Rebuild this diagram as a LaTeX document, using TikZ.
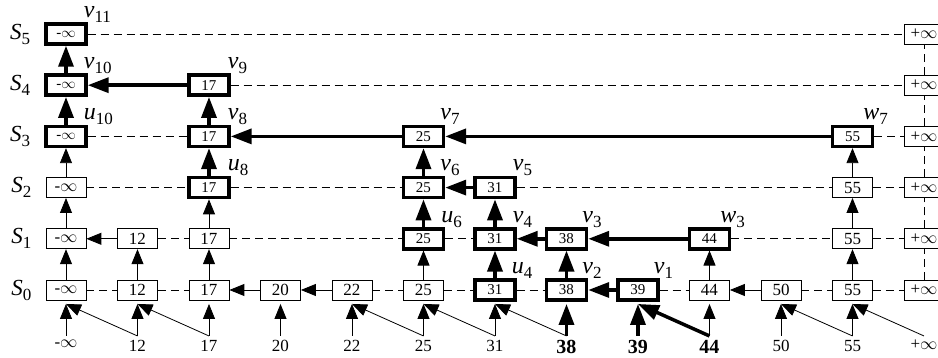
\documentclass[tikz,border=0pt]{standalone}
\usepackage{fontspec}
\setmainfont{Liberation Serif}
\usetikzlibrary{arrows.meta,positioning}

% italic letter with a lowered upright index
\newcommand{\lvl}[2]{\textit{#1}\raisebox{-5pt}{\fontsize{17}{17}\selectfont #2}}

\begin{document}
\begin{tikzpicture}[x=71.5pt,y=51.2pt,
    cell/.style={draw,line width=0.8pt,fill=white,minimum width=40pt,minimum height=20pt,
      inner sep=0pt,font=\fontsize{17}{17}\selectfont},
    hcell/.style={cell,line width=3.5pt,font=\fontsize{15}{15}\selectfont},
    ptr/.style={line width=0.8pt,-{Triangle[length=15pt,width=12pt]}},
    bptr/.style={line width=3.5pt,-{Triangle[length=21pt,width=15pt]}},
    link/.style={line width=0.8pt,dash pattern=on 8pt off 5pt},
    lab/.style={anchor=base west,inner sep=0pt,font=\fontsize{24}{24}\selectfont}]
  \useasboundingbox (-0.923,-1.328) rectangle (12.196,5.664);
  % level S_0 holds every key
  \foreach \c/\k/\st in {0/-$\infty$/cell,1/12/cell,2/17/cell,3/20/cell,4/22/cell,
      5/25/cell,6/31/hcell,7/38/hcell,8/39/hcell,9/44/cell,10/50/cell,11/55/cell,
      12/+$\infty$/cell}
    \node[\st] (n\c-0) at (\c,0) {\k};
  % S_1
  \foreach \c/\k/\st in {0/-$\infty$/cell,1/12/cell,2/17/cell,5/25/hcell,6/31/hcell,
      7/38/hcell,9/44/hcell,11/55/cell,12/+$\infty$/cell}
    \node[\st] (n\c-1) at (\c,1) {\k};
  % S_2
  \foreach \c/\k/\st in {0/-$\infty$/cell,2/17/hcell,5/25/hcell,6/31/hcell,11/55/cell,
      12/+$\infty$/cell}
    \node[\st] (n\c-2) at (\c,2) {\k};
  % S_3
  \foreach \c/\k/\st in {0/-$\infty$/hcell,2/17/hcell,5/25/hcell,11/55/hcell,
      12/+$\infty$/cell}
    \node[\st] (n\c-3) at (\c,3) {\k};
  % S_4 and S_5
  \foreach \c/\k/\st in {0/-$\infty$/hcell,2/17/hcell,12/+$\infty$/cell}
    \node[\st] (n\c-4) at (\c,4) {\k};
  \foreach \c/\k/\st in {0/-$\infty$/hcell,12/+$\infty$/cell}
    \node[\st] (n\c-5) at (\c,5) {\k};
  % level names
  \foreach \j in {0,...,5}
    \node[left=14pt of n0-\j,inner sep=0pt,font=\fontsize{23}{23}\selectfont] (s\j) {\lvl{S}{\j}};
  % dashed links along the levels
  \foreach \a/\b/\j in {0/1/0,1/2/0,4/5/0,5/6/0,6/7/0,8/9/0,10/11/0,11/12/0,
      1/2/1,2/5/1,5/6/1,9/11/1,11/12/1,0/2/2,2/5/2,6/11/2,11/12/2,
      0/2/3,11/12/3,2/12/4,0/12/5}
    \draw[link] (n\a-\j) -- (n\b-\j);
  \foreach \j/\i in {0/1,1/2,2/3,3/4,4/5}
    \draw[link] (n12-\j) -- (n12-\i);
  % left pointers
  \foreach \a/\b/\j/\st in {3/2/0/ptr,4/3/0/ptr,8/7/0/bptr,10/9/0/ptr,1/0/1/ptr,
      7/6/1/bptr,9/7/1/bptr,6/5/2/bptr,5/2/3/bptr,11/5/3/bptr,2/0/4/bptr}
    \draw[\st] (n\a-\j) -- (n\b-\j);
  % up pointers
  \foreach \c/\j/\i/\st in {0/0/1/ptr,0/1/2/ptr,0/2/3/ptr,0/3/4/bptr,0/4/5/bptr,
      1/0/1/ptr,2/0/1/ptr,2/1/2/ptr,2/2/3/bptr,2/3/4/bptr,5/0/1/ptr,5/1/2/bptr,
      5/2/3/bptr,6/0/1/bptr,6/1/2/bptr,7/0/1/bptr,9/0/1/ptr,11/0/1/ptr,11/1/2/ptr,
      11/2/3/ptr}
    \draw[\st] (n\c-\j) -- (n\c-\i);
  % search path labels
  \foreach \nm/\a/\b/\dx in {0-5/v/11/-4,0-4/v/10/-4,0-3/u/10/-4,2-4/v/9/-3,2-3/v/8/-3,
      2-2/u/8/-3,5-3/v/7/-5,5-2/v/6/-5,5-1/u/6/-4,6-2/v/5/-4,6-1/v/4/-4,6-0/u/4/-5,
      7-1/v/3/-6,7-0/v/2/-6,8-0/v/1/-6,9-1/w/3/-11,11-3/w/7/-11}
    \node[lab] (l\nm) at ([xshift=\dx pt,yshift=5pt]n\nm.north east) {\lvl{\a}{\b}};
  % keys arriving below S_0
  \foreach \c in {0,...,12}{
    \coordinate (b\c) at (\c,-0.898);
    \coordinate (t\c) at (\c,-0.273);
  }
  \foreach \c/\k in {0/-$\infty$,1/12,2/17,3/20,4/22,5/25,6/31,10/50,11/55,12/+$\infty$}
    \node[anchor=north,inner sep=0pt,font=\fontsize{17}{17}\selectfont] (k\c) at (\c,-0.975) {\k};
  \foreach \c/\k in {7/38,8/39,9/44}
    \node[anchor=north,inner sep=0pt,font=\fontsize{20}{20}\selectfont\bfseries] (k\c) at (\c,-0.985) {\k};
  \foreach \c in {0,1,2,3,4,5,6,9,10,11}
    \draw[ptr] (b\c) -- (t\c);
  \foreach \c in {7,8}
    \draw[bptr] (b\c) -- (t\c);
  \foreach \a/\b in {1/0,2/1,5/4,6/5,7/6,11/10,12/11}
    \draw[ptr] (b\a) -- (t\b);
  \draw[bptr] (b9) -- (t8);
\end{tikzpicture}
\end{document}
